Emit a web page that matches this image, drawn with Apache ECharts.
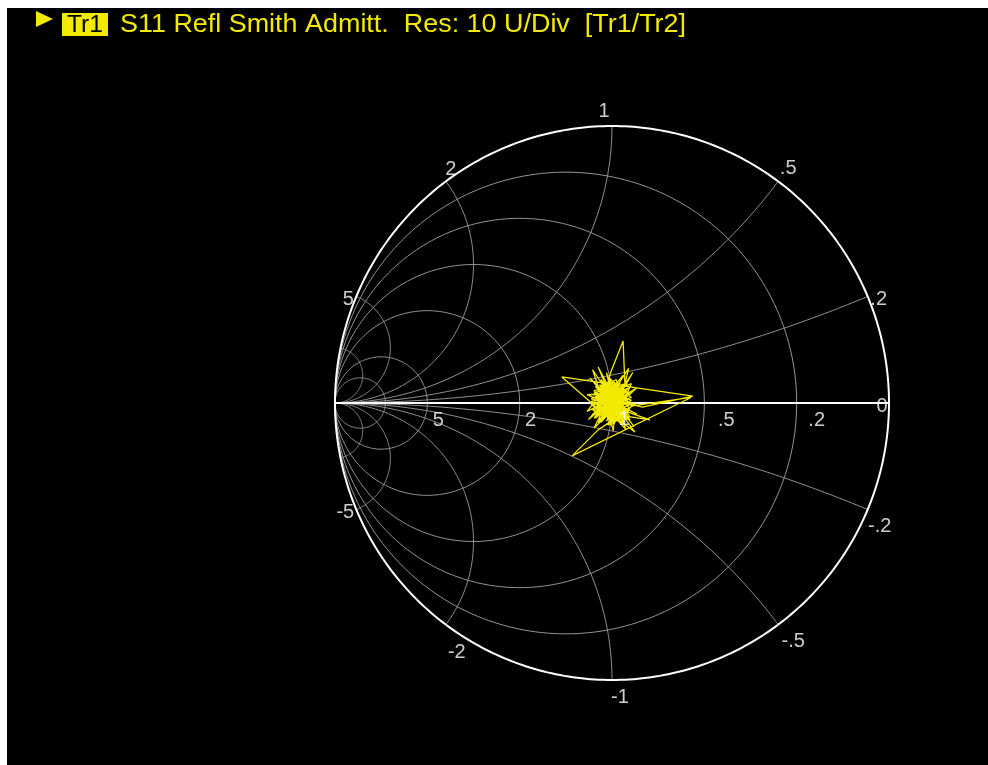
<!DOCTYPE html>
<html>
<head>
<meta charset="utf-8">
<script src="https://cdn.jsdelivr.net/npm/echarts@6/dist/echarts.min.js"></script>
<style>
html,body{margin:0;padding:0;background:#ffffff;width:988px;height:765px;overflow:hidden;}
#c{position:absolute;left:7px;top:8px;width:981px;height:757px;background:#000;}
</style>
</head>
<body>
<div id="c"></div>
<script>
// ---- chart data ----
const conductanceCircles = [0.2, 0.5, 1, 2, 5, 10];
const susceptanceArcs = [0.2, 0.5, 1, 2, 5, 10, -0.2, -0.5, -1, -2, -5, -10];
const realAxisLabels = [5, 2, 1, 0.5, 0.2, 0];
const rimLabels = [1, 2, 0.5, 5, 0.2, -5, -0.2, -2, -0.5, -1];
const titleMarker = "Tr1";
const titleText = "S11 Refl Smith Admitt.  Res: 10 U/Div  [Tr1/Tr2]";
// trace: reflection coefficient, real / imaginary parts
const traceRe = [
0.005,-0.045,0.030,-0.060,0.045,-0.020,0.060,-0.070,0.015,0.050,-0.035,0.065,-0.015,0.020,-0.065,0.000,-0.040,0.035,-0.025,0.055,-0.055,0.010,0.040,-0.050,0.025,-0.010,0.070,-0.075,0.005,-0.030,
-0.005,0.040,0.047,
-0.020,0.030,-0.045,0.050,-0.070,0.025,-0.005,0.060,-0.040,0.015,-0.060,0.045,-0.010,0.035,-0.055,0.005,0.065,-0.030,0.020,-0.050,0.040,-0.015,0.055,-0.065,0.010,
-0.085,-0.181,0.292,0.110,
0.030,-0.045,0.010,-0.025,0.065,-0.070,0.025,-0.010,0.040,-0.035,0.050,-0.060,0.000,0.030,-0.050,0.070,-0.020,0.015,-0.040,0.045,-0.075,0.020,-0.005,0.055,-0.030,
0.137,0.050,
-0.050,-0.144,0.285,0.075,
-0.015,0.025,-0.045,0.050,-0.060,0.000,0.035,-0.030,0.015,-0.055,0.083,0.020,-0.025,0.045,-0.040,0.030,-0.065,0.060,-0.005,0.005,-0.035,0.040,-0.020,0.025,-0.050,0.055,-0.010,0.070,-0.070,0.015,
-0.025,0.035,-0.050,0.000,0.030,-0.035,0.010,-0.020,0.045,-0.060,0.005,0.035,-0.040,0.060,-0.005,0.020,-0.030,0.025,-0.015,0.040,-0.045,0.010,-0.010,0.015,0.000,
-0.080,0.020,0.080,-0.010,-0.085,0.035,0.075,-0.020,-0.070,0.010,0.090,-0.030,0.005,0.015,-0.090,0.025,0.060,-0.015,-0.065,0.035,0.090,-0.025,0.050,0.005,-0.050,0.020,0.085,-0.035,-0.090,0.000,0.040,-0.060,0.065,-0.040,0.010,0.070,-0.075,0.030,-0.020,0.005];
const traceIm = [
0.010,0.035,-0.045,-0.015,0.060,-0.065,0.015,0.030,0.085,-0.055,0.075,-0.020,-0.080,0.040,-0.055,0.030,-0.030,0.025,0.055,-0.040,0.010,-0.035,0.070,-0.070,-0.010,0.065,0.035,-0.005,-0.060,0.020,
0.110,0.224,0.060,
0.015,-0.025,0.050,-0.045,-0.010,0.065,-0.040,0.040,-0.060,0.005,0.060,-0.070,0.045,0.010,-0.035,0.075,-0.005,-0.050,0.050,0.025,-0.030,-0.020,0.070,0.045,-0.075,
0.010,0.094,0.025,-0.015,
0.005,0.040,-0.055,0.080,-0.050,-0.040,0.025,0.055,-0.075,-0.020,0.045,0.020,-0.015,0.080,-0.060,0.010,0.035,-0.045,0.065,-0.015,0.015,0.060,-0.070,0.025,-0.035,
-0.061,-0.030,
-0.097,-0.191,0.020,-0.010,
0.020,-0.050,0.065,0.040,-0.055,0.005,-0.015,-0.045,0.050,0.000,-0.105,-0.020,0.060,0.025,-0.070,0.075,0.035,-0.030,-0.080,0.035,0.005,-0.005,-0.025,0.015,0.055,-0.060,0.090,0.020,-0.025,-0.065,
0.040,0.045,-0.030,0.060,-0.060,0.000,-0.030,0.070,-0.020,0.040,-0.045,0.030,-0.055,0.055,0.025,-0.005,-0.010,0.035,-0.050,0.010,0.020,0.045,-0.005,0.020,0.000,
0.090,-0.010,-0.085,0.030,-0.060,0.040,0.110,-0.030,0.120,0.000,-0.040,0.020,-0.100,0.035,0.030,-0.020,0.125,0.010,-0.090,0.005,0.055,-0.015,-0.095,0.025,0.130,-0.040,-0.005,0.040,-0.030,0.015,0.100,-0.020,-0.060,0.085,-0.070,0.070,0.005,-0.050,0.110,0.005];

// ---- styling (label offsets in px) ----
const rimOffsets = {"1":[-8,-15],"2":[5,-12],"0.5":[10,-13],"5":[-8,3],"0.2":[11,3],"-5":[-11,3],"-0.2":[12,17],"-2":[11,28],"-0.5":[15,17],"-1":[8,17]};
const axisOffsets = {"5":[11,17],"2":[11,17],"1":[12,16],"0.5":[22,17],"0.2":[20,17],"0":[-7,3]};

function fmt(v){
  let s = String(Math.abs(v));
  if (s.indexOf('0.') === 0) s = s.slice(1);
  return (v < 0 ? '-' : '') + s;
}
function circlePts(cx, cy, r, a0, a1, n){
  const pts = [];
  for (let i = 0; i <= n; i++){
    const a = a0 + (a1 - a0) * i / n;
    pts.push([cx + r * Math.cos(a), cy + r * Math.sin(a)]);
  }
  return pts;
}
const grayLines = [];
conductanceCircles.forEach(g => {
  grayLines.push({coords: circlePts(-g/(1+g), 0, 1/(1+g), 0, 2*Math.PI, 240)});
});
susceptanceArcs.forEach(b => {
  const ab = Math.abs(b), s = Math.sign(b);
  const r = 1/ab;
  const dx = 2/(ab*ab+1), dy = (ab*ab-1)/(ab*(ab*ab+1));
  const aEnd = Math.atan2(dy, dx);
  const pts = circlePts(-1, r, r, -Math.PI/2, aEnd, 200).map(p => [p[0], s*p[1]]);
  grayLines.push({coords: pts});
});
const whiteLines = [
  {coords: circlePts(0, 0, 1, 0, 2*Math.PI, 400)},
  {coords: [[-1, 0], [1, 0]]}
];
const labelData = [];
rimLabels.forEach(b => {
  const u = -(b*b-1)/(b*b+1), v = 2*b/(b*b+1);
  labelData.push({value:[u, v], label:{formatter: fmt(b), offset: rimOffsets[String(b)]}});
});
realAxisLabels.forEach(g => {
  labelData.push({value:[(1-g)/(1+g), 0], label:{formatter: fmt(g), offset: axisOffsets[String(g)]}});
});
const traceData = traceRe.map((x, i) => [x, traceIm[i]]);

// title width fit
const TFONT = '26px "Liberation Sans", Arial, sans-serif';
const MFONT = '24px "Liberation Sans", Arial, sans-serif';
const mc = document.createElement('canvas').getContext('2d');
mc.font = TFONT;
const tw = mc.measureText(titleText).width;
const tScale = 566 / tw;
mc.font = MFONT;
const mw = mc.measureText(titleMarker).width;

const chart = echarts.init(document.getElementById('c'), null, {renderer: 'canvas'});
chart.setOption({
  backgroundColor: '#000000',
  animation: false,
  grid: {left: 328, top: 118, width: 554, height: 554},
  xAxis: {type: 'value', min: -1, max: 1, show: false},
  yAxis: {type: 'value', min: -1, max: 1, show: false},
  graphic: [
    {type: 'polygon', shape: {points: [[29,3],[46,11],[29,19]]}, style: {fill: '#f2ea00'}},
    {type: 'rect', shape: {x: 55, y: 5, width: 46, height: 23}, style: {fill: '#f2ea00'}},
    {type: 'text', x: 60, y: 17, scaleX: 36/mw, style: {text: titleMarker, fill: '#000', font: MFONT, textAlign: 'left', textVerticalAlign: 'middle'}},
    {type: 'text', x: 113, y: 17, scaleX: tScale, style: {text: titleText, fill: '#f2ea00', font: TFONT, textAlign: 'left', textVerticalAlign: 'middle'}}
  ],
  series: [
    {type: 'lines', coordinateSystem: 'cartesian2d', polyline: true, silent: true,
     lineStyle: {color: '#959595', width: 1, opacity: 1}, data: grayLines, z: 1},
    {type: 'lines', coordinateSystem: 'cartesian2d', polyline: true, silent: true,
     lineStyle: {color: '#ffffff', width: 2, opacity: 1}, data: whiteLines, z: 2},
    {type: 'line', data: traceData, showSymbol: false, symbol: 'none', z: 3,
     lineStyle: {color: '#f2ea00', width: 1.3}},
    {type: 'scatter', data: labelData, symbolSize: 0, z: 4, silent: true,
     label: {show: true, position: 'inside', color: '#ffffff', fontSize: 20,
       fontFamily: '"Liberation Sans", Arial, sans-serif', align: 'center', verticalAlign: 'middle'}}
  ]
});
</script>
</body>
</html>
